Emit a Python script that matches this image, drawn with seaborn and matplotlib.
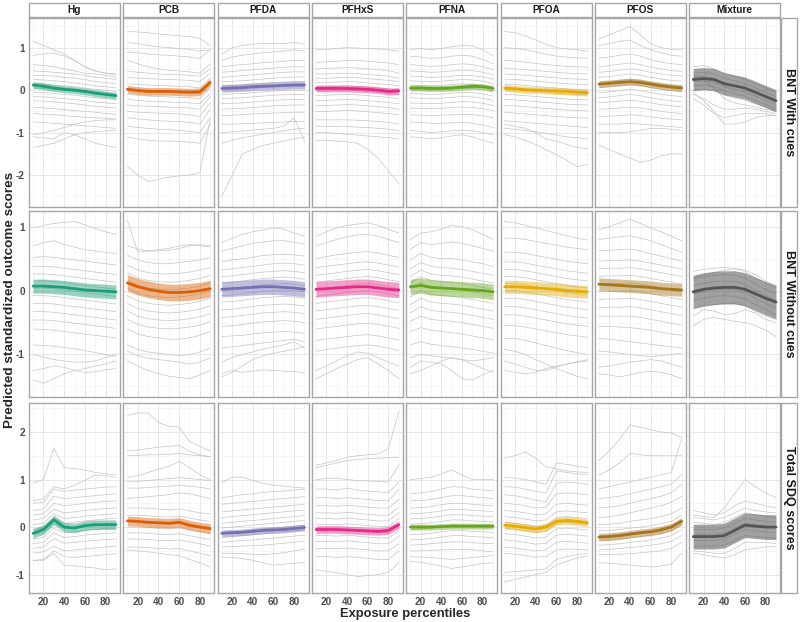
import numpy as np
import pandas as pd
import matplotlib
matplotlib.use("Agg")
import matplotlib.pyplot as plt
from matplotlib.patches import Rectangle
import seaborn as sns

# ---------------- data (values in hundredths of an SD) ----------------
PCT = [10, 20, 30, 40, 50, 60, 70, 80, 90]
EXPOSURES = ["Hg", "PCB", "PFDA", "PFHxS", "PFNA", "PFOA", "PFOS", "Mixture"]
OUTCOMES = ["BNT With cues", "BNT Without cues", "Total SDQ scores"]
COLORS = ["#1B9E77", "#D95F02", "#7570B3", "#E7298A", "#66A61E", "#E6AB02", "#A6761D", "#555555"]

# mean curves (colored lines)
MEAN_CUES = [
    [12, 9, 5, 2, 0, -3, -7, -10, -13],
    [2, -1, -3, -3, -3, -4, -5, -4, 18],
    [4, 5, 6, 8, 9, 10, 11, 12, 12],
    [4, 4, 4, 4, 3, 2, 0, -3, -2],
    [5, 5, 4, 4, 5, 7, 9, 8, 4],
    [5, 3, 1, 0, -1, -2, -3, -5, -6],
    [14, 16, 18, 20, 18, 14, 10, 7, 5],
    [25, 27, 25, 15, 10, 5, -5, -15, -25],
]
MEAN_NOCUES = [
    [7, 7, 6, 5, 3, 1, 0, -1, -2],
    [12, 6, 2, -1, -3, -3, -2, 0, 3],
    [2, 3, 4, 5, 6, 6, 5, 4, 2],
    [2, 3, 4, 5, 6, 6, 4, 2, 1],
    [6, 8, 5, 4, 3, 2, 1, 0, -2],
    [6, 6, 5, 4, 3, 2, 0, -1, -2],
    [10, 9, 8, 7, 6, 5, 3, 2, 1],
    [-2, 2, 4, 5, 5, 2, -5, -12, -18],
]
MEAN_SDQ = [
    [-13, -5, 15, 0, -2, 3, 5, 5, 5],
    [13, 12, 10, 9, 8, 10, 4, 0, -3],
    [-13, -12, -11, -9, -7, -6, -5, -3, -1],
    [-5, -5, -5, -6, -7, -8, -9, -7, 5],
    [0, 0, 0, 1, 2, 2, 2, 2, 2],
    [4, 2, -1, -4, 0, 12, 14, 12, 9],
    [-21, -20, -18, -15, -12, -10, -6, 0, 12],
    [-20, -20, -20, -18, -7, 4, 2, 0, 0],
]
# ribbon half widths
BAND_CUES = [8, 9, 9, 8, 7, 8, 8, 26]
BAND_NOCUES = [11, 13, 12, 12, 12, 10, 10, 26]
BAND_SDQ = [10, 10, 7, 8, 6, 8, 8, 26]

# individual prediction curves (grey lines)
CUES_HG = [
    [115, 105, 95, 85, 70, 55, 45, 40, 35], [82, 85, 87, 80, 70, 55, 45, 40, 38],
    [60, 58, 55, 50, 45, 40, 38, 35, 30], [45, 44, 42, 40, 38, 35, 30, 28, 25],
    [35, 34, 33, 30, 28, 25, 20, 18, 15], [25, 24, 22, 20, 17, 14, 10, 8, 5],
    [15, 14, 12, 10, 8, 5, 2, 0, -3], [5, 4, 2, 0, -3, -5, -8, -10, -12],
    [-5, -6, -8, -10, -12, -15, -18, -20, -22], [-15, -16, -18, -20, -22, -25, -28, -30, -32],
    [-25, -26, -28, -30, -32, -35, -38, -40, -42], [-40, -42, -44, -46, -48, -50, -52, -55, -57],
    [-55, -57, -58, -60, -62, -64, -65, -66, -68], [-75, -76, -78, -80, -82, -84, -86, -88, -90],
    [-105, -100, -95, -88, -80, -75, -72, -70, -70], [-135, -130, -125, -115, -105, -100, -98, -96, -95],
    [-110, -112, -115, -100, -105, -115, -125, -130, -135],
]
CUES_PCB = [
    [138, 137, 135, 132, 130, 128, 126, 122, 105], [112, 110, 105, 102, 100, 98, 96, 92, 95],
    [90, 88, 85, 83, 82, 80, 78, 75, 95], [70, 62, 55, 50, 47, 45, 43, 40, 62],
    [45, 42, 40, 38, 37, 36, 35, 33, 50], [30, 28, 27, 26, 25, 24, 23, 20, 40],
    [15, 13, 12, 11, 10, 9, 8, 5, 28], [2, 0, -2, -3, -4, -5, -6, -8, 15],
    [-10, -12, -14, -15, -16, -17, -18, -20, 5], [-22, -24, -26, -27, -28, -29, -30, -32, -8],
    [-35, -37, -38, -39, -40, -41, -42, -45, -15], [-50, -52, -53, -54, -55, -56, -58, -62, -30],
    [-65, -68, -70, -72, -73, -74, -76, -80, -45], [-85, -88, -90, -92, -93, -95, -97, -100, -65],
    [-110, -115, -118, -120, -120, -121, -122, -125, -80], [-180, -200, -215, -210, -205, -202, -200, -195, -70],
]
CUES_PFDA = [
    [85, 100, 105, 108, 110, 110, 110, 112, 108], [70, 78, 82, 85, 88, 90, 92, 95, 92],
    [55, 58, 60, 62, 65, 66, 68, 70, 70], [42, 44, 46, 48, 50, 52, 54, 55, 55],
    [30, 32, 34, 36, 38, 40, 42, 43, 43], [20, 21, 22, 24, 26, 28, 30, 31, 31],
    [10, 11, 12, 14, 16, 18, 19, 20, 20], [0, 1, 2, 4, 6, 8, 9, 10, 10],
    [-10, -9, -8, -6, -4, -2, -1, 0, 0], [-20, -19, -18, -16, -14, -12, -11, -10, -10],
    [-32, -31, -30, -28, -26, -24, -23, -22, -22], [-45, -44, -43, -41, -39, -37, -36, -35, -35],
    [-60, -59, -58, -56, -55, -54, -53, -52, -52], [-80, -80, -79, -78, -77, -76, -75, -74, -74],
    [-100, -98, -96, -94, -92, -90, -85, -65, -120], [-125, -118, -112, -108, -104, -100, -96, -92, -90],
    [-250, -200, -150, -140, -130, -125, -120, -115, -110],
]
CUES_PFHXS = [
    [95, 96, 98, 100, 99, 98, 97, 95, 92], [65, 67, 68, 70, 70, 68, 66, 64, 60],
    [50, 51, 52, 53, 52, 50, 48, 46, 40], [38, 38, 39, 40, 39, 37, 35, 33, 28],
    [28, 28, 29, 30, 29, 27, 25, 23, 20], [18, 18, 19, 20, 19, 17, 15, 13, 10],
    [8, 8, 9, 10, 9, 7, 5, 3, 0], [-2, -2, -1, 0, -1, -3, -5, -7, -10],
    [-12, -12, -11, -10, -11, -13, -15, -17, -20], [-24, -24, -23, -22, -23, -25, -27, -29, -32],
    [-36, -36, -35, -34, -35, -37, -39, -41, -45], [-50, -50, -49, -48, -49, -51, -53, -55, -58],
    [-70, -70, -70, -70, -71, -72, -74, -76, -80], [-85, -85, -86, -86, -87, -88, -90, -92, -95],
    [-100, -100, -102, -104, -106, -108, -110, -112, -115], [-118, -118, -120, -122, -125, -140, -160, -190, -220],
]
CUES_PFNA = [
    [95, 98, 95, 98, 102, 105, 104, 95, 80], [80, 78, 75, 76, 80, 82, 80, 72, 62],
    [60, 58, 56, 57, 60, 62, 60, 55, 48], [45, 44, 42, 43, 45, 47, 46, 42, 36],
    [33, 32, 30, 31, 33, 35, 34, 31, 26], [22, 21, 20, 21, 23, 25, 24, 21, 16],
    [12, 11, 10, 11, 13, 15, 14, 11, 6], [2, 1, 0, 1, 3, 5, 4, 1, -4],
    [-8, -9, -10, -9, -7, -5, -6, -9, -14], [-18, -19, -20, -19, -17, -15, -16, -19, -24],
    [-30, -31, -32, -31, -29, -27, -28, -31, -36], [-42, -43, -44, -43, -41, -40, -41, -44, -48],
    [-58, -59, -60, -59, -58, -57, -58, -60, -65], [-75, -76, -78, -78, -77, -76, -78, -82, -88],
    [-95, -97, -100, -98, -96, -95, -96, -100, -105], [-110, -112, -115, -112, -108, -105, -110, -118, -125],
]
CUES_PFOA = [
    [138, 135, 128, 118, 108, 100, 97, 95, 92], [100, 98, 95, 90, 85, 80, 78, 76, 75],
    [70, 68, 66, 63, 60, 58, 56, 55, 54], [52, 50, 48, 46, 44, 42, 40, 39, 38],
    [38, 37, 35, 33, 31, 29, 27, 26, 25], [26, 25, 23, 21, 19, 17, 15, 14, 13],
    [14, 13, 11, 9, 7, 5, 3, 2, 1], [2, 1, -1, -3, -5, -7, -9, -10, -11],
    [-10, -11, -13, -15, -17, -19, -21, -22, -23], [-22, -23, -25, -27, -29, -31, -33, -34, -35],
    [-36, -37, -39, -41, -43, -45, -47, -48, -49], [-52, -54, -56, -58, -60, -62, -64, -65, -66],
    [-72, -74, -76, -78, -80, -82, -84, -86, -88], [-90, -92, -95, -98, -102, -106, -110, -112, -115],
    [-105, -110, -118, -128, -140, -152, -165, -180, -175], [-80, -85, -90, -100, -115, -120, -128, -135, -138],
]
CUES_PFOS = [
    [120, 130, 140, 150, 130, 110, 100, 96, 95], [105, 110, 115, 118, 105, 95, 88, 82, 80],
    [75, 78, 82, 85, 80, 72, 66, 62, 60], [55, 58, 61, 64, 60, 54, 50, 46, 44],
    [42, 44, 47, 50, 47, 42, 38, 35, 33], [30, 32, 35, 38, 35, 30, 26, 23, 21],
    [18, 20, 23, 26, 23, 18, 14, 11, 9], [6, 8, 11, 14, 11, 6, 2, -1, -3],
    [-6, -4, -1, 2, -1, -6, -10, -13, -15], [-18, -16, -13, -10, -13, -18, -22, -25, -27],
    [-30, -28, -26, -24, -26, -30, -34, -37, -39], [-45, -44, -42, -40, -42, -46, -50, -53, -55],
    [-62, -61, -60, -58, -60, -63, -66, -68, -70], [-80, -80, -80, -78, -80, -82, -84, -86, -88],
    [-100, -100, -100, -98, -95, -90, -90, -92, -95], [-130, -140, -150, -160, -170, -165, -155, -150, -150],
]
CUES_MIX = [
    [55, 58, 50, 40, 32, 25, 15, 5, -5], [40, 42, 38, 28, 22, 15, 5, -5, -15],
    [30, 32, 28, 18, 12, 6, -4, -14, -24], [20, 22, 18, 8, 2, -4, -14, -24, -34],
    [10, 12, 8, -2, -8, -14, -24, -34, -44], [0, 2, -2, -12, -18, -24, -32, -40, -48],
    [-10, -20, -35, -45, -45, -42, -45, -50, -55], [-20, -35, -55, -65, -60, -55, -55, -55, -60],
    [-5, -25, -50, -80, -80, -75, -65, -60, -60], [35, 25, 5, -20, -30, -35, -40, -45, -50],
]

NOCUES_HG = [
    [98, 102, 105, 107, 108, 103, 97, 92, 88], [70, 75, 78, 72, 68, 64, 62, 60, 58],
    [52, 53, 52, 50, 48, 46, 44, 42, 40], [38, 38, 37, 35, 33, 31, 29, 27, 25],
    [26, 26, 25, 23, 21, 19, 17, 15, 13], [15, 15, 14, 12, 10, 8, 6, 4, 2],
    [4, 4, 3, 1, -1, -3, -5, -7, -9], [-8, -8, -9, -11, -13, -15, -17, -19, -21],
    [-20, -20, -21, -23, -25, -27, -29, -31, -33], [-33, -33, -34, -36, -38, -40, -42, -44, -46],
    [-46, -46, -47, -49, -51, -53, -55, -57, -59], [-60, -61, -62, -64, -66, -68, -70, -72, -74],
    [-85, -86, -87, -89, -91, -94, -97, -100, -103], [-100, -104, -108, -110, -112, -112, -110, -105, -100],
    [-140, -145, -138, -130, -125, -122, -118, -115, -110], [-125, -122, -118, -120, -125, -128, -127, -124, -122],
]
NOCUES_PCB = [
    [110, 60, 62, 64, 66, 70, 72, 70, 68], [70, 65, 62, 62, 63, 66, 70, 72, 70],
    [55, 48, 44, 42, 42, 44, 46, 48, 52], [40, 32, 28, 26, 26, 27, 29, 32, 36],
    [28, 20, 16, 14, 13, 14, 16, 19, 24], [16, 8, 4, 2, 1, 2, 4, 7, 12],
    [4, -4, -8, -10, -11, -10, -8, -5, 0], [-8, -16, -20, -22, -23, -22, -20, -17, -12],
    [-20, -28, -32, -34, -35, -34, -32, -29, -24], [-32, -40, -44, -46, -47, -46, -44, -41, -36],
    [-45, -53, -57, -59, -60, -59, -57, -54, -48], [-60, -68, -72, -74, -76, -76, -74, -70, -64],
    [-85, -92, -96, -98, -100, -102, -100, -96, -90], [-95, -102, -106, -108, -110, -112, -115, -112, -105],
    [-110, -118, -125, -130, -134, -136, -138, -132, -125],
]
NOCUES_PFDA = [
    [75, 82, 88, 92, 95, 98, 96, 90, 85], [62, 66, 70, 74, 76, 78, 78, 76, 72],
    [45, 48, 50, 52, 55, 56, 57, 56, 54], [32, 34, 36, 38, 40, 42, 43, 42, 40],
    [22, 23, 25, 27, 29, 30, 31, 30, 28], [12, 13, 15, 17, 19, 20, 21, 20, 18],
    [2, 3, 5, 7, 9, 10, 11, 10, 8], [-8, -7, -5, -3, -1, 0, 1, 0, -2],
    [-18, -17, -15, -13, -11, -10, -9, -10, -12], [-30, -29, -27, -25, -23, -22, -21, -22, -24],
    [-42, -41, -39, -37, -35, -34, -33, -34, -36], [-56, -55, -53, -51, -49, -48, -47, -48, -50],
    [-72, -71, -70, -68, -66, -65, -64, -65, -67], [-90, -88, -86, -84, -82, -80, -78, -76, -80],
    [-112, -105, -100, -96, -92, -88, -85, -80, -90], [-130, -125, -128, -126, -124, -125, -126, -127, -128],
    [-135, -128, -118, -108, -102, -98, -95, -92, -88],
]
NOCUES_PFHXS = [
    [85, 92, 98, 102, 104, 106, 102, 96, 90], [70, 75, 80, 84, 87, 88, 85, 80, 75],
    [50, 53, 56, 58, 60, 61, 59, 55, 52], [36, 38, 40, 42, 44, 45, 43, 40, 37],
    [24, 26, 28, 30, 32, 33, 31, 28, 25], [13, 15, 17, 19, 21, 22, 20, 17, 14],
    [2, 4, 6, 8, 10, 11, 9, 6, 3], [-9, -7, -5, -3, -1, 0, -2, -5, -8],
    [-20, -18, -16, -14, -12, -11, -13, -16, -19], [-32, -30, -28, -26, -24, -23, -25, -28, -31],
    [-45, -43, -41, -39, -37, -36, -38, -41, -44], [-60, -58, -56, -54, -52, -51, -53, -56, -59],
    [-78, -76, -74, -72, -70, -69, -71, -74, -77], [-95, -92, -90, -88, -86, -85, -87, -90, -94],
    [-125, -118, -110, -102, -96, -98, -105, -112, -118], [-138, -130, -122, -115, -108, -105, -115, -125, -138],
]
NOCUES_PFNA = [
    [80, 90, 92, 96, 102, 100, 95, 88, 80], [65, 75, 72, 74, 76, 74, 70, 66, 62],
    [48, 58, 52, 50, 50, 48, 45, 42, 38], [34, 44, 38, 36, 35, 33, 30, 27, 24],
    [22, 32, 26, 24, 23, 21, 18, 15, 12], [12, 22, 16, 14, 13, 11, 8, 5, 2],
    [2, 12, 6, 4, 3, 1, -2, -5, -8], [-10, 0, -6, -8, -9, -11, -14, -17, -20],
    [-22, -12, -18, -20, -21, -23, -26, -29, -32], [-35, -25, -31, -33, -34, -36, -39, -42, -45],
    [-48, -40, -45, -47, -48, -50, -53, -56, -59], [-64, -58, -62, -64, -66, -68, -71, -74, -77],
    [-85, -80, -84, -86, -88, -90, -92, -95, -98], [-105, -100, -102, -104, -106, -108, -110, -108, -105],
    [-120, -110, -112, -115, -125, -138, -140, -132, -125], [-130, -125, -118, -110, -105, -108, -115, -122, -128],
]
NOCUES_PFOA = [
    [108, 106, 102, 98, 94, 90, 86, 82, 79], [82, 82, 80, 77, 74, 71, 68, 66, 64],
    [60, 60, 58, 55, 52, 49, 46, 44, 42], [45, 45, 43, 40, 37, 34, 31, 29, 27],
    [33, 33, 31, 28, 25, 22, 19, 17, 15], [22, 22, 20, 17, 14, 11, 8, 6, 4],
    [11, 11, 9, 6, 3, 0, -3, -5, -7], [0, 0, -2, -5, -8, -11, -14, -16, -18],
    [-12, -12, -14, -17, -20, -23, -26, -28, -30], [-25, -25, -27, -30, -33, -36, -39, -41, -43],
    [-38, -38, -40, -43, -46, -49, -52, -54, -56], [-55, -55, -57, -60, -63, -66, -69, -71, -73],
    [-75, -75, -78, -82, -86, -90, -94, -97, -100], [-92, -95, -100, -108, -115, -122, -128, -134, -138],
    [-110, -115, -120, -125, -125, -120, -115, -112, -110], [-125, -128, -130, -128, -122, -118, -115, -112, -108],
]
NOCUES_PFOS = [
    [95, 100, 106, 112, 105, 98, 92, 85, 78], [80, 82, 84, 86, 82, 78, 72, 66, 60],
    [62, 63, 64, 65, 62, 58, 54, 50, 46], [46, 47, 47, 48, 46, 43, 40, 37, 34],
    [34, 35, 35, 36, 34, 31, 28, 25, 22], [22, 23, 23, 24, 22, 19, 16, 13, 10],
    [10, 11, 11, 12, 10, 7, 4, 1, -2], [-2, -1, -1, 0, -2, -5, -8, -11, -14],
    [-14, -13, -13, -12, -14, -17, -20, -23, -26], [-27, -26, -26, -25, -27, -30, -33, -36, -39],
    [-40, -40, -40, -40, -42, -45, -48, -51, -54], [-56, -56, -57, -58, -60, -62, -65, -68, -70],
    [-75, -76, -78, -80, -82, -84, -86, -88, -90], [-95, -96, -98, -100, -102, -103, -102, -100, -98],
    [-120, -118, -115, -112, -110, -108, -110, -115, -120], [-130, -132, -135, -132, -128, -126, -128, -132, -138],
]
NOCUES_MIX = [
    [30, 33, 35, 36, 35, 30, 20, 12, 5], [18, 21, 24, 25, 24, 20, 10, 2, -5],
    [8, 11, 14, 15, 14, 10, 0, -8, -15], [-5, -2, 1, 2, 1, -3, -12, -20, -28],
    [-15, -12, -9, -8, -9, -13, -22, -30, -38], [-28, -25, -22, -20, -20, -24, -32, -40, -45],
    [-40, -30, -32, -38, -36, -30, -35, -45, -50], [-55, -45, -42, -45, -48, -50, -55, -62, -72],
    [20, 24, 28, 32, 34, 32, 25, 15, 8],
]

SDQ_HG = [
    [93, 100, 165, 125, 123, 120, 115, 112, 110], [55, 60, 85, 80, 88, 98, 110, 108, 105],
    [50, 52, 80, 75, 78, 80, 82, 84, 85], [35, 38, 65, 60, 62, 64, 66, 68, 70],
    [25, 28, 50, 45, 47, 50, 52, 54, 55], [15, 18, 38, 30, 32, 35, 37, 39, 40],
    [5, 8, 28, 18, 20, 23, 25, 27, 28], [-5, -2, 18, 8, 10, 13, 15, 17, 18],
    [-15, -12, 8, -2, 0, 3, 5, 7, 8], [-25, -22, -2, -12, -10, -7, -5, -3, -2],
    [-35, -32, -12, -22, -20, -17, -15, -13, -12], [-45, -42, -24, -34, -32, -30, -28, -26, -25],
    [-55, -52, -40, -50, -48, -46, -44, -42, -40], [-70, -68, -50, -62, -64, -62, -60, -58, -56],
    [-70, -70, -55, -80, -82, -84, -86, -90, -88],
]
SDQ_PCB = [
    [235, 240, 240, 220, 212, 210, 180, 170, 160], [160, 162, 165, 168, 170, 172, 160, 152, 148],
    [150, 151, 152, 152, 153, 155, 152, 150, 148], [105, 108, 115, 122, 128, 138, 125, 110, 100],
    [95, 96, 98, 100, 102, 104, 102, 100, 98], [82, 82, 83, 85, 86, 88, 86, 84, 80],
    [60, 62, 64, 66, 68, 72, 70, 65, 60], [40, 40, 40, 38, 36, 38, 34, 30, 28],
    [25, 25, 24, 22, 21, 23, 19, 15, 12], [12, 12, 11, 9, 8, 10, 6, 2, -2],
    [0, 0, -1, -3, -4, -2, -6, -10, -14], [-12, -12, -13, -15, -16, -14, -18, -22, -26],
    [-25, -25, -26, -28, -29, -27, -31, -35, -40], [-42, -42, -43, -45, -46, -45, -50, -55, -60],
    [-48, -50, -52, -55, -58, -60, -68, -75, -84],
]
SDQ_PFDA = [
    [93, 105, 105, 98, 92, 88, 86, 84, 82], [62, 65, 68, 70, 73, 75, 76, 78, 80],
    [48, 50, 52, 54, 56, 58, 60, 62, 64], [32, 34, 36, 38, 40, 42, 44, 46, 48],
    [20, 22, 24, 26, 28, 30, 32, 34, 36], [8, 10, 12, 14, 16, 18, 20, 22, 24],
    [-2, 0, 2, 4, 6, 8, 10, 12, 14], [-12, -10, -8, -6, -4, -2, 0, 2, 4],
    [-22, -20, -18, -16, -14, -12, -10, -8, -6], [-32, -30, -28, -27, -25, -23, -21, -19, -17],
    [-42, -41, -40, -39, -38, -36, -34, -32, -30], [-55, -55, -56, -57, -58, -56, -54, -50, -46],
    [-63, -64, -66, -70, -75, -80, -78, -76, -74],
]
SDQ_PFHXS = [
    [130, 135, 140, 147, 150, 152, 154, 165, 243], [125, 130, 135, 140, 142, 144, 145, 146, 146],
    [100, 102, 103, 100, 98, 97, 96, 95, 130], [80, 80, 78, 82, 78, 76, 74, 72, 95],
    [62, 62, 60, 62, 60, 58, 56, 55, 80], [45, 45, 44, 46, 44, 42, 40, 40, 58],
    [30, 30, 29, 31, 29, 27, 25, 25, 42], [18, 18, 17, 19, 17, 15, 13, 13, 30],
    [6, 6, 5, 7, 5, 3, 1, 1, 18], [-6, -6, -7, -5, -7, -9, -11, -11, 4],
    [-18, -18, -19, -17, -19, -21, -23, -23, -8], [-30, -30, -31, -29, -31, -33, -35, -35, -20],
    [-45, -45, -46, -44, -46, -48, -50, -50, -35], [-62, -62, -64, -62, -64, -66, -68, -68, -50],
    [-90, -93, -96, -100, -104, -102, -100, -95, -75],
]
SDQ_PFNA = [
    [100, 102, 105, 112, 120, 110, 100, 100, 100], [70, 72, 75, 80, 85, 84, 80, 78, 76],
    [55, 56, 58, 62, 66, 66, 64, 62, 60], [40, 41, 43, 47, 50, 50, 48, 46, 45],
    [28, 29, 31, 34, 37, 37, 35, 34, 33], [17, 18, 20, 23, 26, 26, 24, 23, 22],
    [6, 7, 9, 12, 15, 15, 13, 12, 11], [-5, -4, -2, 1, 4, 4, 2, 1, 0],
    [-16, -15, -13, -10, -7, -7, -9, -10, -11], [-27, -26, -24, -21, -18, -18, -20, -21, -22],
    [-38, -37, -35, -33, -31, -31, -33, -34, -35], [-50, -50, -49, -48, -47, -47, -48, -50, -52],
    [-62, -63, -64, -66, -68, -66, -64, -62, -60], [-72, -74, -78, -82, -87, -84, -80, -77, -75],
]
SDQ_PFOA = [
    [145, 150, 158, 145, 127, 122, 118, 116, 115], [105, 103, 100, 95, 90, 135, 132, 128, 125],
    [85, 84, 80, 75, 72, 118, 115, 112, 110], [68, 66, 62, 56, 54, 92, 95, 93, 90],
    [50, 48, 45, 40, 42, 70, 72, 70, 68], [35, 33, 30, 26, 28, 48, 50, 48, 46],
    [22, 20, 17, 13, 15, 32, 34, 32, 30], [10, 8, 5, 1, 3, 20, 22, 20, 18],
    [-2, -4, -7, -11, -9, 8, 10, 8, 6], [-14, -16, -19, -23, -21, -4, -2, -4, -6],
    [-27, -29, -32, -36, -34, -17, -15, -17, -19], [-42, -44, -47, -50, -48, -32, -30, -32, -34],
    [-55, -57, -60, -63, -62, -48, -46, -47, -48], [-95, -94, -92, -90, -88, -68, -62, -58, -55],
    [-115, -110, -105, -100, -95, -80, -72, -65, -60],
]
SDQ_PFOS = [
    [140, 160, 185, 215, 210, 205, 200, 198, 188], [110, 120, 135, 155, 152, 150, 150, 150, 150],
    [80, 85, 90, 95, 100, 105, 110, 115, 185], [60, 62, 65, 70, 75, 80, 85, 90, 110],
    [40, 42, 45, 50, 55, 60, 65, 72, 90], [20, 22, 25, 30, 35, 40, 45, 52, 65],
    [5, 6, 8, 12, 15, 18, 22, 28, 40], [-8, -7, -5, -2, 0, 3, 7, 12, 25],
    [-18, -17, -15, -12, -10, -7, -3, 2, 15], [-28, -27, -25, -22, -20, -17, -13, -8, 5],
    [-38, -37, -35, -32, -30, -27, -23, -18, -5], [-48, -47, -45, -43, -41, -38, -35, -30, -18],
    [-58, -58, -57, -56, -54, -52, -50, -45, -32], [-75, -76, -78, -80, -82, -84, -82, -78, -55],
]
SDQ_MIX = [
    [25, 22, 20, 40, 70, 100, 85, 72, 62], [35, 30, 25, 30, 45, 55, 50, 45, 40],
    [20, 18, 15, 20, 30, 40, 35, 32, 30], [10, 8, 5, 10, 20, 30, 26, 23, 20],
    [-5, -5, -5, -2, 8, 18, 15, 12, 10], [-15, -15, -15, -12, -2, 8, 5, 2, 0],
    [-28, -28, -28, -25, -15, -5, -8, -10, -12], [-40, -40, -40, -38, -28, -18, -20, -22, -24],
    [-50, -52, -55, -55, -45, -32, -32, -32, -35], [-55, -58, -62, -65, -58, -48, -45, -42, -40],
]

GREY_ROWS = [
    [CUES_HG, CUES_PCB, CUES_PFDA, CUES_PFHXS, CUES_PFNA, CUES_PFOA, CUES_PFOS, CUES_MIX],
    [NOCUES_HG, NOCUES_PCB, NOCUES_PFDA, NOCUES_PFHXS, NOCUES_PFNA, NOCUES_PFOA, NOCUES_PFOS, NOCUES_MIX],
    [SDQ_HG, SDQ_PCB, SDQ_PFDA, SDQ_PFHXS, SDQ_PFNA, SDQ_PFOA, SDQ_PFOS, SDQ_MIX],
]
MEAN_ROWS = [MEAN_CUES, MEAN_NOCUES, MEAN_SDQ]
BAND_ROWS = [BAND_CUES, BAND_NOCUES, BAND_SDQ]

# ---------------- tidy tables ----------------
grey_records = []
mean_records = []
for r, outcome in enumerate(OUTCOMES):
    for c, expo in enumerate(EXPOSURES):
        for i, line in enumerate(GREY_ROWS[r][c]):
            for p, v in zip(PCT, line):
                grey_records.append((outcome, expo, i, p, v / 100))
        for p, m in zip(PCT, MEAN_ROWS[r][c]):
            hw = BAND_ROWS[r][c] / 100
            mean_records.append((outcome, expo, p, m / 100, m / 100 - hw, m / 100 + hw))
grey_df = pd.DataFrame(grey_records, columns=["outcome", "exposure", "id", "pct", "value"])
mean_df = pd.DataFrame(mean_records, columns=["outcome", "exposure", "pct", "est", "lo", "hi"])

# ---------------- styling ----------------
sns.set_style("white")
plt.rcParams["font.family"] = ["Liberation Sans", "DejaVu Sans"]
plt.rcParams["font.weight"] = "bold"
plt.rcParams["axes.unicode_minus"] = False

W, H = 800, 622
fig = plt.figure(figsize=(W / 100, H / 100), dpi=100)

col_left = [29 + c * 94.3 for c in range(8)]
col_w = 91
row_top = [17.5, 210.7, 403.0]
row_bot = [206.5, 397.3, 592.7]
YLIMS = [(-2.74, 1.71), (-1.67, 1.25), (-1.38, 2.61)]
YTICKS = [[-2, -1, 0, 1], [-1, 0, 1], [-1, 0, 1, 2]]
YMINOR = [[-2.5, -1.5, -0.5, 0.5, 1.5], [-1.5, -0.5, 0.5], [-0.5, 0.5, 1.5, 2.5]]

BORDER = "#a6a6a6"
GREY = "#c4c4c4"

for r, outcome in enumerate(OUTCOMES):
    for c, expo in enumerate(EXPOSURES):
        ax = fig.add_axes([col_left[c] / W, 1 - row_bot[r] / H, col_w / W, (row_bot[r] - row_top[r]) / H])
        sub = grey_df[(grey_df.outcome == outcome) & (grey_df.exposure == expo)]
        msub = mean_df[(mean_df.outcome == outcome) & (mean_df.exposure == expo)]
        sns.lineplot(data=sub, x="pct", y="value", units="id", estimator=None,
                     color=GREY, lw=0.5, ax=ax, legend=False)
        col = COLORS[c]
        ax.fill_between(msub.pct, msub.lo, msub.hi, color=col,
                        alpha=0.55 if expo == "Mixture" else 0.45, lw=0, zorder=3)
        sns.lineplot(data=msub, x="pct", y="est", color=col, lw=2.0, ax=ax,
                     errorbar=None, legend=False, zorder=4)
        ax.set_xlim(6, 94)
        ax.set_ylim(*YLIMS[r])
        ax.set_xticks([20, 40, 60, 80])
        ax.set_xticks([10, 30, 50, 70, 90], minor=True)
        ax.set_yticks(YTICKS[r])
        ax.set_yticks(YMINOR[r], minor=True)
        ax.grid(which="major", color="#e3e3e3", lw=0.6, zorder=0)
        ax.grid(which="minor", color="#f0f0f0", lw=0.4, zorder=0)
        ax.set_axisbelow(True)
        for s in ax.spines.values():
            s.set_color(BORDER)
            s.set_linewidth(1.0)
        ax.tick_params(which="major", length=2, color="#555555", labelsize=7.2,
                       labelcolor="#4d4d4d", pad=1.0)
        ax.tick_params(which="minor", length=0)
        ax.set_xlabel("")
        ax.set_ylabel("")
        if c != 0:
            ax.tick_params(axis="y", labelleft=False, length=0)
        if r != 2:
            ax.tick_params(axis="x", labelbottom=False, length=0)
        if r == 0:
            fig.add_artist(Rectangle((col_left[c] / W, 1 - 16.5 / H), col_w / W, 13.5 / H,
                                     transform=fig.transFigure, facecolor="white",
                                     edgecolor=BORDER, lw=1.0))
            fig.text((col_left[c] + col_w / 2) / W, 1 - 9.8 / H, expo, ha="center", va="center",
                     fontsize=7.3, fontweight="bold", color="#1a1a1a")
    fig.add_artist(Rectangle((781 / W, 1 - row_bot[r] / H), 16 / W, (row_bot[r] - row_top[r]) / H,
                             transform=fig.transFigure, facecolor="white", edgecolor=BORDER, lw=1.0))
    fig.text(789 / W, 1 - (row_top[r] + row_bot[r]) / 2 / H, outcome, rotation=-90,
             ha="center", va="center", fontsize=9, fontweight="bold", color="#1a1a1a")

fig.text(405 / W, 1 - 614.5 / H, "Exposure percentiles", ha="center", va="center",
         fontsize=9.3, fontweight="bold")
fig.text(10 / W, 1 - 300 / H, "Predicted standardized outcome scores", rotation=90,
         ha="center", va="center", fontsize=9.7, fontweight="bold")

fig.savefig("out.png", dpi=100)
